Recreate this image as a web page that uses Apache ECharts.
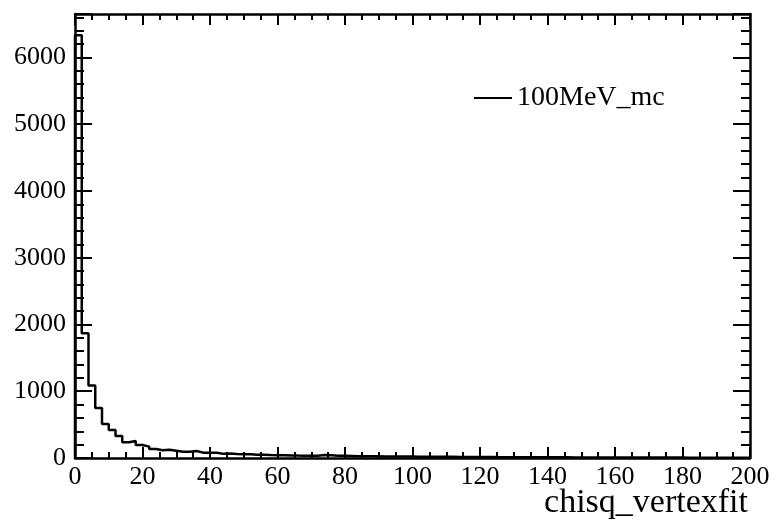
<!DOCTYPE html>
<html>
<head>
<meta charset="utf-8">
<script src="https://cdn.jsdelivr.net/npm/echarts@6/dist/echarts.min.js"></script>
<style>html,body{margin:0;padding:0;background:#fff}#c{width:774px;height:527px}</style>
</head>
<body>
<div id="c"></div>
<script>
// Histogram: 100 bins of width 2 from 0 to 200
const binStart = 0;
const binWidth = 2;
const counts = [
  6330, 1870, 1085, 750, 510, 420, 330, 235, 255, 195,
  170, 135, 115, 125, 110, 95, 95, 105, 80, 80,
  78, 62, 68, 60, 58, 57, 47, 50, 45, 42,
  40, 38, 36, 35, 33, 35, 45, 42, 34, 32,
  30, 28, 28, 26, 25, 24, 23, 22, 22, 21,
  20, 19, 19, 18, 17, 17, 16, 16, 15, 15,
  14, 14, 13, 13, 13, 12, 12, 11, 11, 11,
  10, 10, 10, 9, 9, 9, 9, 8, 8, 8,
  8, 7, 7, 7, 7, 6, 6, 6, 6, 6,
  5, 5, 5, 5, 5, 5, 4, 4, 4, 4
];
const seriesName = "100MeV_mc";
const xTitle = "chisq_vertexfit";

const pts = [[binStart, 0]];
counts.forEach((v, i) => pts.push([binStart + i * binWidth, v]));
const xEnd = binStart + counts.length * binWidth;
pts.push([xEnd, counts[counts.length - 1]]);
pts.push([xEnd, 0]);

const font = "Liberation Serif";
const axLine = {show: true, onZero: false, lineStyle: {color: '#000', width: 2.5}};
const chart = echarts.init(document.getElementById('c'));
chart.setOption({
  animation: false,
  backgroundColor: '#fff',
  grid: {left: 75, right: 24, top: 14, bottom: 69, containLabel: false, outerBoundsMode: 'none'},
  legend: {
    left: 469, top: 79, icon: 'rect', itemWidth: 38, itemHeight: 2, itemGap: 11,
    textStyle: {fontFamily: font, fontSize: 28, color: '#000'},
    data: [seriesName]
  },
  graphic: [{
    type: 'text', right: 26, top: 486,
    style: {text: xTitle, font: '34px "Liberation Serif"', fill: '#000'}
  }],
  xAxis: [
    {
      type: 'value', min: 0, max: 200, interval: 20, position: 'bottom',
      axisLine: axLine, splitLine: {show: false},
      axisTick: {inside: true, length: 11, lineStyle: {color: '#000', width: 2}},
      minorTick: {show: true, splitNumber: 4, length: 6, lineStyle: {color: '#000', width: 2}},
      axisLabel: {fontFamily: font, fontSize: 26, color: '#000', margin: 6}
    },
    {
      type: 'value', min: 0, max: 200, interval: 20, position: 'top',
      axisLine: axLine, splitLine: {show: false},
      axisTick: {inside: true, length: 11, lineStyle: {color: '#000', width: 2}},
      minorTick: {show: true, splitNumber: 4, length: 6, lineStyle: {color: '#000', width: 2}},
      axisLabel: {show: false}
    }
  ],
  yAxis: [
    {
      type: 'value', min: 0, max: 6650, interval: 1000, position: 'left',
      axisLine: axLine, splitLine: {show: false},
      axisTick: {inside: true, length: 17, lineStyle: {color: '#000', width: 2}},
      minorTick: {show: true, splitNumber: 5, length: 9, lineStyle: {color: '#000', width: 2}},
      axisLabel: {fontFamily: font, fontSize: 26, color: '#000', margin: 9, showMaxLabel: false,
        formatter: v => String(v)}
    },
    {
      type: 'value', min: 0, max: 6650, interval: 1000, position: 'right',
      axisLine: axLine, splitLine: {show: false},
      axisTick: {inside: true, length: 17, lineStyle: {color: '#000', width: 2}},
      minorTick: {show: true, splitNumber: 5, length: 9, lineStyle: {color: '#000', width: 2}},
      axisLabel: {show: false}
    }
  ],
  series: [{
    name: seriesName, type: 'line', step: 'end', showSymbol: false, symbol: 'none',
    xAxisIndex: 0, yAxisIndex: 0,
    lineStyle: {color: '#000', width: 2.5}, itemStyle: {color: '#000'},
    data: pts
  }]
});
</script>
</body>
</html>
